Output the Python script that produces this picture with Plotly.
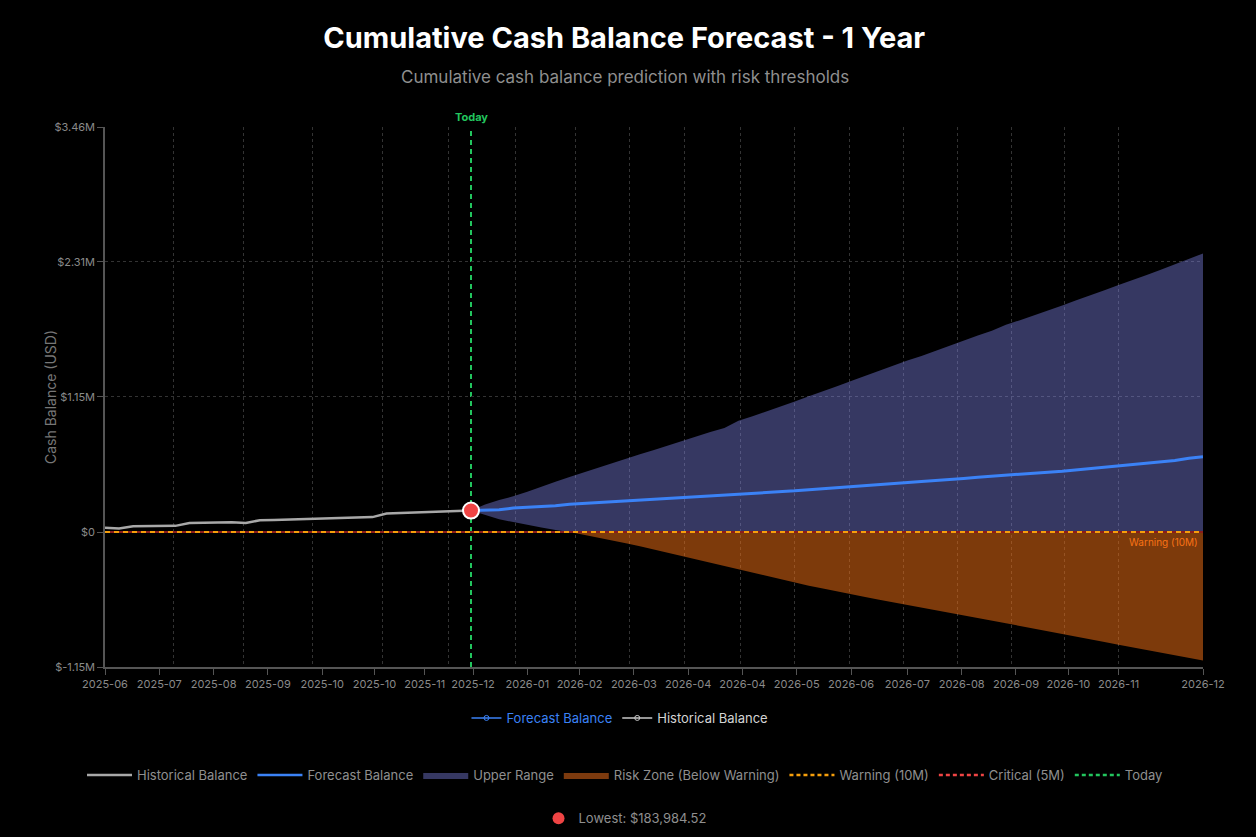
import numpy as np
import pandas as pd
import plotly.graph_objects as go

# ---------------- data (values in $ millions) ----------------
HIST_START = "2025-06-16"
TODAY = "2025-12-15"
X_END = "2026-12-14"

historical = [0.037, 0.030, 0.050, 0.051, 0.052, 0.053, 0.078, 0.080, 0.080, 0.083,
              0.078, 0.101, 0.104, 0.108, 0.108, 0.112, 0.118, 0.122, 0.128, 0.128,
              0.159, 0.163, 0.167, 0.174, 0.179, 0.181, 0.184]

forecast = [0.184, 0.187, 0.190, 0.205, 0.212, 0.216, 0.225, 0.238, 0.245, 0.250,
            0.260, 0.268, 0.276, 0.282, 0.287, 0.294, 0.302, 0.307, 0.314, 0.322,
            0.330, 0.335, 0.345, 0.352, 0.362, 0.370, 0.378, 0.388, 0.396, 0.405,
            0.414, 0.424, 0.432, 0.440, 0.447, 0.458, 0.468, 0.478, 0.487, 0.495,
            0.502, 0.512, 0.520, 0.532, 0.545, 0.555, 0.565, 0.575, 0.588, 0.600,
            0.612, 0.630, 0.643]

upper = [0.184, 0.235, 0.275, 0.305, 0.345, 0.390, 0.430, 0.470, 0.510, 0.550,
         0.590, 0.630, 0.665, 0.700, 0.740, 0.780, 0.815, 0.855, 0.890, 0.950,
         0.990, 1.030, 1.075, 1.115, 1.160, 1.200, 1.245, 1.290, 1.335, 1.380,
         1.420, 1.465, 1.505, 1.550, 1.590, 1.635, 1.680, 1.720, 1.770, 1.810,
         1.850, 1.895, 1.935, 1.980, 2.020, 2.065, 2.110, 2.150, 2.195, 2.240,
         2.285, 2.335, 2.380]

lower = [0.184, 0.150, 0.110, 0.085, 0.060, 0.040, 0.018, 0.000, -0.022, -0.045,
         -0.070, -0.095, -0.122, -0.150, -0.178, -0.208, -0.236, -0.264, -0.292, -0.322,
         -0.350, -0.378, -0.404, -0.432, -0.458, -0.482, -0.508, -0.530, -0.555, -0.578,
         -0.600, -0.622, -0.642, -0.662, -0.684, -0.706, -0.730, -0.754, -0.778, -0.802,
         -0.826, -0.850, -0.874, -0.898, -0.918, -0.940, -0.962, -0.985, -1.008, -1.030,
         -1.052, -1.075, -1.098]

WARNING_LEVEL = 0.0
CRITICAL_LEVEL = 0.0
LOWEST_VALUE = 0.18398452
LOWEST_TEXT = "Lowest: $183,984.52"

x_tick_dates = ["2025-06-16", "2025-07-13", "2025-08-09", "2025-09-05", "2025-10-02",
                "2025-10-28", "2025-11-22", "2025-12-16", "2026-01-12", "2026-02-07",
                "2026-03-06", "2026-04-02", "2026-04-29", "2026-05-26", "2026-06-22",
                "2026-07-20", "2026-08-16", "2026-09-12", "2026-10-08", "2026-11-02",
                "2026-12-14"]
x_tick_labels = ["2025-06", "2025-07", "2025-08", "2025-09", "2025-10", "2025-10",
                 "2025-11", "2025-12", "2026-01", "2026-02", "2026-03", "2026-04",
                 "2026-04", "2026-05", "2026-06", "2026-07", "2026-08", "2026-09",
                 "2026-10", "2026-11", "2026-12"]
x_grid_dates = ["2025-07-20", "2025-08-24", "2025-09-27", "2025-11-01", "2025-12-04",
                "2026-01-06", "2026-02-05", "2026-03-04", "2026-03-31", "2026-04-28",
                "2026-05-25", "2026-06-21", "2026-07-18", "2026-08-14", "2026-09-10",
                "2026-10-06", "2026-11-02", "2026-12-14"]

y_tick_vals = [3.46, 2.3075, 1.155, 0.0, -1.1525]
y_tick_labels = ["$3.46M", "$2.31M", "$1.15M", "$0", "$-1.15M"]

# ---------------- styles ----------------
FONT = "Inter, 'Noto Sans', sans-serif"
C_HIST = "#a8a8a8"
C_FORE = "#3b82f6"
C_BAND = "rgba(135,140,245,0.40)"
C_RISK = "rgba(249,115,22,0.50)"
C_WARN = "#f59e0b"
C_CRIT = "#ef4444"
C_TODAY = "#22c55e"
C_AXIS = "#8a8a8a"
C_GRID = "#333333"

hist_dates = pd.date_range(HIST_START, periods=len(historical), freq="7D")
fc_dates = pd.date_range(TODAY, periods=len(forecast), freq="7D")

lower_arr = np.array(lower)
band_low = np.maximum(lower_arr, WARNING_LEVEL)
risk_low = np.minimum(lower_arr, WARNING_LEVEL)

fig = go.Figure()

# Upper range band
fig.add_trace(go.Scatter(x=fc_dates, y=band_low, mode="lines", line=dict(width=0),
                         showlegend=False, hoverinfo="skip"))
fig.add_trace(go.Scatter(x=fc_dates, y=upper, mode="lines", line=dict(width=0),
                         fill="tonexty", fillcolor=C_BAND, showlegend=False, hoverinfo="skip"))
# Risk zone
fig.add_trace(go.Scatter(x=fc_dates, y=risk_low, mode="lines", line=dict(width=0),
                         fill="tozeroy", fillcolor=C_RISK, showlegend=False, hoverinfo="skip"))

# Threshold lines
fig.add_trace(go.Scatter(x=[HIST_START, X_END], y=[CRITICAL_LEVEL, CRITICAL_LEVEL], mode="lines",
                         line=dict(color="#8b1c1c", width=2), showlegend=False, hoverinfo="skip"))
fig.add_trace(go.Scatter(x=[HIST_START, X_END], y=[WARNING_LEVEL, WARNING_LEVEL], mode="lines",
                         line=dict(color=C_WARN, width=2, dash="5px,4px"), showlegend=False,
                         hoverinfo="skip"))

# Lines
fig.add_trace(go.Scatter(x=fc_dates, y=forecast, mode="lines",
                         line=dict(color=C_FORE, width=3), showlegend=False))
fig.add_trace(go.Scatter(x=hist_dates, y=historical, mode="lines",
                         line=dict(color=C_HIST, width=2.5), showlegend=False))

# Lowest point marker
fig.add_trace(go.Scatter(x=[TODAY], y=[LOWEST_VALUE], mode="markers",
                         marker=dict(size=16, color=C_CRIT, line=dict(color="white", width=2)),
                         showlegend=False))

# Grid helper on overlaying axis
fig.add_trace(go.Scatter(x=[HIST_START], y=[None], xaxis="x2", mode="lines",
                         showlegend=False, hoverinfo="skip"))

# ---- legend 1 entries
fig.add_trace(go.Scatter(x=[None], y=[None], mode="lines+markers",
                         name="<span style='color:#3b82f6'>Forecast Balance</span>",
                         line=dict(color=C_FORE, width=1.5),
                         marker=dict(symbol="circle-open", size=5, color=C_FORE), legend="legend"))
fig.add_trace(go.Scatter(x=[None], y=[None], mode="lines+markers",
                         name="<span style='color:#d4d4d4'>Historical Balance</span>",
                         line=dict(color="#c8c8c8", width=1.5),
                         marker=dict(symbol="circle-open", size=5, color="#c8c8c8"), legend="legend"))

# ---- legend 2 entries
leg2 = [
    ("Historical Balance", dict(mode="lines", line=dict(color=C_HIST, width=2.5))),
    ("Forecast Balance", dict(mode="lines", line=dict(color=C_FORE, width=2.5))),
    ("Upper Range", dict(mode="lines", line=dict(width=0), fill="toself", fillcolor="#363862")),
    ("Risk Zone (Below Warning)", dict(mode="lines", line=dict(width=0), fill="toself", fillcolor="#7c3a0e")),
    ("Warning (10M)", dict(mode="lines", line=dict(color=C_WARN, width=2.5, dash="4px,3px"))),
    ("Critical (5M)", dict(mode="lines", line=dict(color=C_CRIT, width=2.5, dash="4px,3px"))),
    ("Today", dict(mode="lines", line=dict(color=C_TODAY, width=2.5, dash="4px,3px"))),
]
for nm, kw in leg2:
    fig.add_trace(go.Scatter(x=[None], y=[None], name=nm, legend="legend2", **kw))

# ---- legend 3 (lowest)
fig.add_trace(go.Scatter(x=[None], y=[None], mode="markers", name=LOWEST_TEXT,
                         marker=dict(size=12, color=C_CRIT), legend="legend3"))

# Today line
fig.add_shape(type="line", x0=TODAY, x1=TODAY, y0=0, y1=1, xref="x", yref="paper",
              line=dict(color=C_TODAY, width=2, dash="5px,4px"), layer="below")

fig.add_annotation(x=TODAY, y=1, xref="x", yref="paper", yanchor="bottom", showarrow=False,
                   text="<b>Today</b>", font=dict(color=C_TODAY, size=11, family=FONT), yshift=1)
fig.add_annotation(x=X_END, y=WARNING_LEVEL, xref="x", yref="y", xanchor="right", yanchor="top",
                   showarrow=False, text="Warning (10M)", xshift=-3, yshift=-2,
                   font=dict(color="#f97316", size=10, family=FONT))
fig.add_annotation(x=0.4736, y=1.0926, xref="paper", yref="paper", showarrow=False,
                   xanchor="center", yanchor="middle",
                   text="Cumulative cash balance prediction with risk thresholds",
                   font=dict(color="#8f8f8f", size=17, family=FONT))
fig.add_annotation(x=-0.0501, y=0.5, xref="paper", yref="paper", showarrow=False,
                   xanchor="center", yanchor="middle", textangle=-90,
                   text="Cash Balance (USD)", font=dict(color="#777777", size=14, family=FONT))

fig.update_layout(
    width=1256, height=837,
    paper_bgcolor="#000000", plot_bgcolor="#000000",
    margin=dict(l=105, r=53, t=127, b=170, autoexpand=False),
    font=dict(family=FONT, color=C_AXIS, size=11),
    title=dict(text="<b>Cumulative Cash Balance Forecast - 1 Year</b>", x=0.497, xanchor="center",
               y=1 - 38 / 837, yanchor="middle", yref="container",
               font=dict(size=29, color="#ffffff", family=FONT)),
    xaxis=dict(type="date", range=[HIST_START, X_END], tickmode="array",
               tickvals=x_tick_dates, ticktext=x_tick_labels, showgrid=False, tickangle=0,
               ticks="outside", ticklen=6, tickcolor="#555", showline=True, linecolor="#555",
               linewidth=1.5, tickfont=dict(color=C_AXIS, size=11), zeroline=False),
    xaxis2=dict(type="date", range=[HIST_START, X_END], overlaying="x", tickmode="array",
                tickvals=x_grid_dates, showticklabels=False, showgrid=True, gridcolor=C_GRID,
                griddash="3px,3px", gridwidth=1, showline=False, ticks=""),
    yaxis=dict(range=[-1.1525, 3.46], tickmode="array", tickvals=y_tick_vals,
               ticktext=y_tick_labels, showgrid=True, gridcolor=C_GRID, griddash="3px,3px",
               ticks="outside", ticklen=6, tickcolor="#555", showline=True, linecolor="#555",
               linewidth=1.5, zeroline=False, tickfont=dict(color=C_AXIS, size=11)),
    legend=dict(orientation="h", x=0.469, xanchor="center", y=-0.0944,
                yanchor="middle", font=dict(size=13, color="#d4d4d4"), itemwidth=30,
                bgcolor="rgba(0,0,0,0)", traceorder="normal"),
    legend2=dict(orientation="h", x=0.4736, xanchor="center", y=-0.2,
                 yanchor="middle", font=dict(size=13, color="#8f8f8f"), itemwidth=45,
                 bgcolor="rgba(0,0,0,0)", traceorder="normal"),
    legend3=dict(orientation="h", x=0.4736, xanchor="center", y=-0.28,
                 yanchor="middle", font=dict(size=13, color="#8f8f8f"), itemwidth=30,
                 bgcolor="rgba(0,0,0,0)", traceorder="normal"),
    hovermode=False,
)

fig.write_html("out.html", config={"displayModeBar": False},
               post_script="document.body.style.margin='0';document.body.style.background='#000';")
